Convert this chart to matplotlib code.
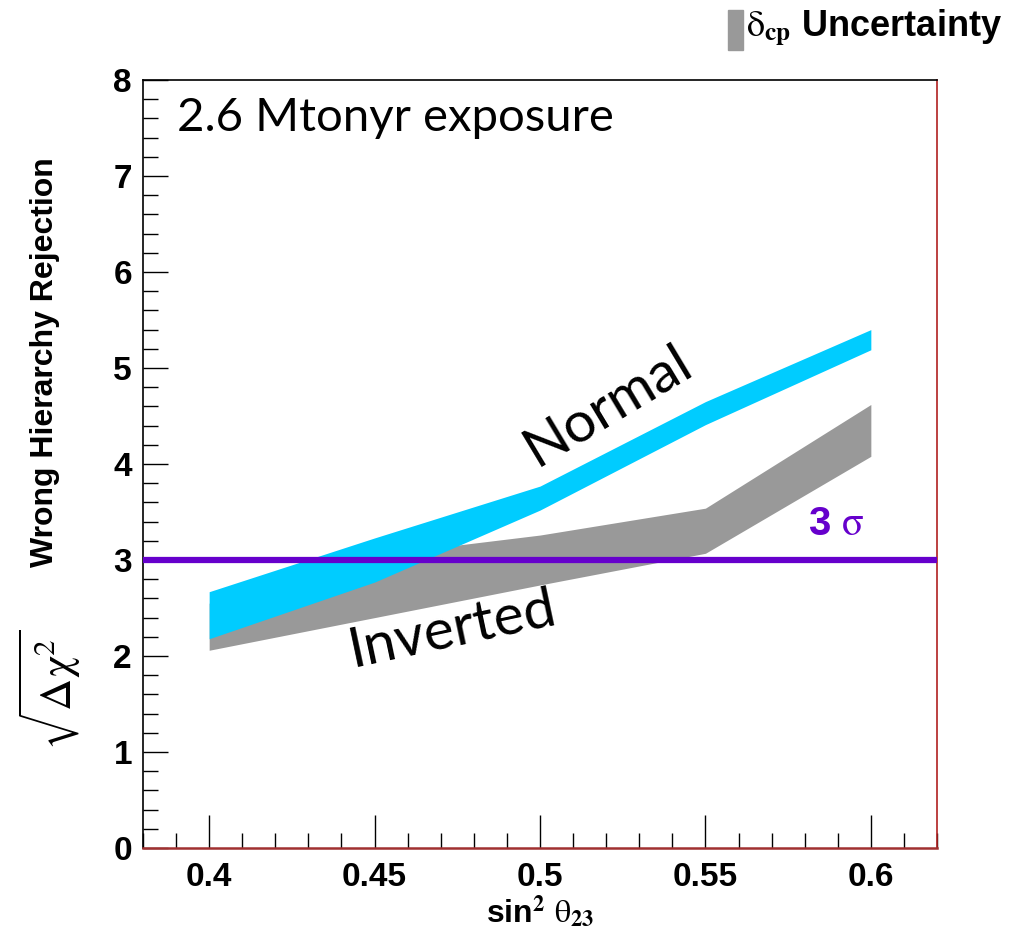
import numpy as np
import matplotlib
matplotlib.use("Agg")
import matplotlib.pyplot as plt
from matplotlib.ticker import MultipleLocator
from matplotlib.patches import Rectangle

plt.rcParams['font.family'] = ['Liberation Sans', 'DejaVu Sans']
plt.rcParams['mathtext.fontset'] = 'stix'

# sin^2 theta_23 points
sin2 = [0.40, 0.45, 0.50, 0.55, 0.60]

# Normal hierarchy band (delta_cp spread)
normal_lo = [2.18, 2.77, 3.52, 4.41, 5.19]
normal_hi = [2.67, 3.23, 3.77, 4.65, 5.40]

# Inverted hierarchy band
inverted_lo = [2.06, 2.40, 2.74, 3.07, 4.08]
inverted_hi = [2.55, 3.05, 3.26, 3.54, 4.62]

sigma_level = 3.0

fig = plt.figure(figsize=(10.12, 9.41), dpi=100)
ax = fig.add_axes([0.1413, 0.0988, 0.7846, 0.8162])

ax.fill_between(sin2, inverted_lo, inverted_hi, color='#999999', lw=0, zorder=2)
ax.fill_between(sin2, normal_lo, normal_hi, color='#00ccff', lw=0, zorder=3)
ax.axhline(sigma_level, color='#6600cc', lw=4.5, zorder=4)

ax.set_xlim(0.38, 0.62)
ax.set_ylim(0, 8)

ax.xaxis.set_major_locator(MultipleLocator(0.05))
ax.xaxis.set_minor_locator(MultipleLocator(0.01))
ax.yaxis.set_major_locator(MultipleLocator(1))
ax.yaxis.set_minor_locator(MultipleLocator(0.2))
ax.set_xticks([0.4, 0.45, 0.5, 0.55, 0.6])
ax.set_xticklabels(['0.4', '0.45', '0.5', '0.55', '0.6'])

ax.tick_params(axis='both', which='both', direction='in', top=False, right=False, width=1)
ax.tick_params(axis='x', which='major', length=24, pad=10, labelsize=24)
ax.tick_params(axis='x', which='minor', length=11)
ax.tick_params(axis='y', which='major', length=18, pad=8, labelsize=24)
ax.tick_params(axis='y', which='minor', length=11)
for lab in ax.get_xticklabels() + ax.get_yticklabels():
    lab.set_fontweight('bold')

for s in ['left', 'top']:
    ax.spines[s].set_color('black')
    ax.spines[s].set_linewidth(1.2)
ax.spines['right'].set_color('#b02020')
ax.spines['right'].set_linewidth(1.2)
ax.spines['bottom'].set_color('#a03030')
ax.spines['bottom'].set_linewidth(1.8)

# y label in two parts: big root sign + bold words
fig.text(50 / 1012, 1 - 690 / 941, r'$\sqrt{\mathrm{\Delta\chi}^{2}}$',
         fontsize=32, rotation=90, ha='center', va='center')
fig.text(45 / 1012, 1 - 362 / 941, 'Wrong Hierarchy Rejection',
         fontsize=23, fontweight='bold', rotation=90, ha='center', va='center')

ax.set_xlabel(r'sin$^{\mathbf{2}}$ $\mathrm{\theta}_{\mathbf{23}}$',
              fontsize=23, fontweight='bold', labelpad=0)

ax.text(0.3903, 7.6, '2.6 Mtonyr exposure', fontsize=34, family='Lato',
        va='center', ha='left')
ax.text(0.5205, 4.6, 'Normal', fontsize=41, family='Lato', rotation=31,
        ha='center', va='center')
ax.text(0.4735, 2.27, 'Inverted', fontsize=41, family='Lato', rotation=12,
        ha='center', va='center')
ax.text(0.5895, 3.38, r'3 $\mathrm{\sigma}$', fontsize=29, fontweight='bold',
        color='#6600cc', ha='center', va='center')

# legend box top right
fig.add_artist(Rectangle((728 / 1012, 1 - 50 / 941), 15 / 1012, 40 / 941,
                         transform=fig.transFigure, color='#999999'))
fig.text(746 / 1012, 1 - 28 / 941, r'$\mathrm{\delta}_{\mathbf{cp}}$ Uncertainty',
         fontsize=26, fontweight='bold', va='center', ha='left')

fig.savefig('out.png', dpi=100)
